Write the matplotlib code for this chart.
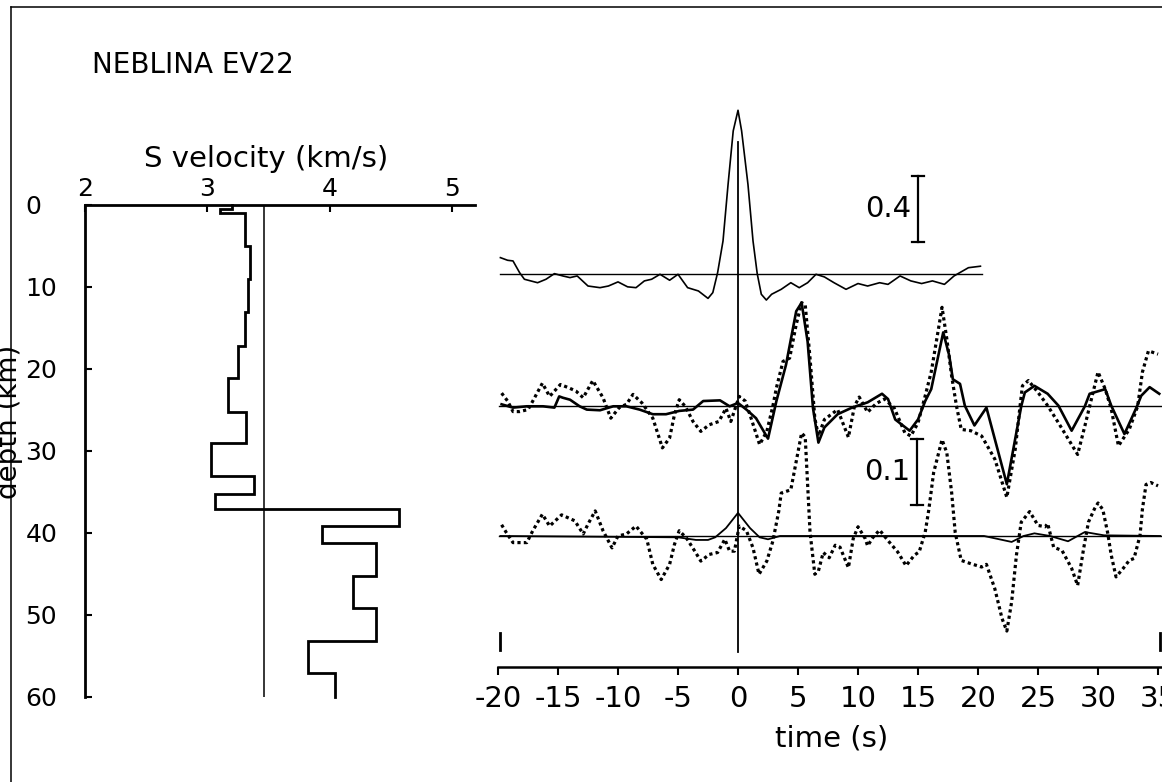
import numpy as np
import matplotlib
matplotlib.use('Agg')
import matplotlib.pyplot as plt
from matplotlib.lines import Line2D

plt.rcParams['font.family'] = ['DejaVu Sans']
plt.rcParams['axes.unicode_minus'] = False

# --- S velocity model (layer tops in km, velocity in km/s) ---
layer_top = [0, 0.5, 1.0, 5.0, 9.0, 13.0, 17.2, 21.1, 25.2, 29.0, 33.1, 35.2,
             37.1, 39.2, 41.2, 45.3, 49.1, 53.2, 57.1]
layer_vel = [3.20, 3.10, 3.31, 3.35, 3.33, 3.31, 3.25, 3.17, 3.32, 3.03, 3.38, 3.06,
             4.57, 3.94, 4.38, 4.19, 4.38, 3.82, 4.04]
model_bottom = 60
ref_vel = 3.46

# --- top trace (autocorrelation, plotted at 1/4 scale) ---
top_t = [-19.8, -19.2, -18.75, -18.2, -17.8, -16.7, -16.0, -15.3, -14.6, -14.0, -13.4,
         -12.5, -11.5, -10.8, -10.0, -9.2, -8.5, -7.8, -7.2, -6.5, -5.7, -5.0, -4.2,
         -3.3, -2.5, -2.1, -1.7, -1.25, -0.83, -0.4, 0.0, 0.3, 0.83, 1.25, 1.6, 1.94,
         2.36, 2.8, 3.6, 4.4, 5.1, 5.8, 6.5, 7.2, 8.0, 9.0, 10.0, 10.8, 11.8, 12.5,
         13.5, 14.4, 15.3, 16.2, 17.2, 18.0, 19.2, 20.2]
top_a = [0.097, 0.081, 0.077, 0.006, -0.034, -0.055, -0.034, 0.0, -0.014, -0.024, -0.014,
         -0.075, -0.085, -0.075, -0.05, -0.08, -0.085, -0.044, -0.034, -0.004, -0.04, -0.004,
         -0.085, -0.105, -0.15, -0.115, 0.006, 0.198, 0.54, 0.865, 0.99, 0.865, 0.54, 0.198,
         0.0, -0.125, -0.16, -0.125, -0.095, -0.055, -0.085, -0.055, -0.004, -0.02, -0.055,
         -0.095, -0.06, -0.075, -0.055, -0.065, -0.014, -0.044, -0.06, -0.044, -0.065,
         -0.014, 0.036, 0.045]

# --- middle traces ---
mid_solid_t = [-19.7, -18.75, -17.6, -16.25, -15.3, -14.9, -14.6, -14.0, -13.2, -12.6,
               -11.5, -10.4, -9.3, -8.2, -7.1, -6.0, -4.9, -3.75, -2.9, -1.5, -0.7, 0.0,
               0.7, 1.5, 2.5, 3.2, 4.0, 4.85, 5.3, 5.8, 6.25, 6.7, 7.2, 8.3, 9.5, 10.8,
               12.0, 12.5, 13.1, 14.3, 15.0, 15.6, 16.1, 17.1, 17.6, 17.9, 18.5, 18.9,
               19.7, 20.7, 22.4, 23.6, 23.9, 24.7, 25.8, 26.7, 27.8, 28.9, 29.3, 30.6,
               31.1, 32.2, 33.2, 33.6, 34.3, 35.1]
mid_solid_a = [0.003, -0.002, 0.0, 0.0, -0.002, 0.015, 0.013, 0.010, 0.0, -0.005,
               -0.006, 0.0, 0.0, -0.005, -0.012, -0.012, -0.007, -0.005, 0.008, 0.009, 0.0,
               0.005, -0.005, -0.018, -0.049, 0.008, 0.063, 0.144, 0.157, 0.098, -0.003,
               -0.055, -0.032, -0.012, -0.002, 0.006, 0.019, 0.011, -0.020, -0.037, -0.020,
               0.008, 0.026, 0.112, 0.077, 0.041, 0.034, 0.001, -0.029, -0.002, -0.118, 0.0,
               0.021, 0.031, 0.019, 0.001, -0.037, 0.0, 0.019, 0.026, 0.001, -0.042, -0.002,
               0.016, 0.029, 0.019]

mid_dot_t = [-19.7, -19.2, -18.75, -18.2, -17.5, -17.1, -16.3, -15.7, -14.8, -14.1, -13.5,
             -12.9, -12.1, -11.25, -10.6, -9.9, -9.3, -8.75, -8.0, -7.1, -6.3, -5.7, -5.3,
             -4.9, -4.4, -3.75, -3.1, -2.4, -1.6, -1.0, -0.6, 0.1, 0.6, 1.0, 1.8, 2.4, 2.9,
             3.2, 3.75, 4.3, 4.85, 5.3, 5.6, 6.0, 6.4, 6.7, 7.2, 8.3, 9.2, 9.7, 10.1, 10.8,
             11.5, 12.2, 13.0, 13.9, 14.4, 15.0, 15.6, 16.1, 16.7, 17.0, 17.4, 17.8, 18.2,
             18.6, 19.4, 20.3, 21.4, 22.4, 23.1, 23.5, 23.7, 24.2, 25.0, 25.8, 26.7, 28.3,
             28.9, 29.3, 30.0, 30.6, 31.1, 31.7, 32.6, 33.3, 33.7, 34.2, 35.0]
mid_dot_a = [0.020, 0.008, -0.008, -0.008, -0.005, 0.008, 0.035, 0.015, 0.033, 0.028, 0.023,
             0.013, 0.039, 0.013, -0.018, -0.002, 0.003, 0.018, 0.005, -0.018, -0.063, -0.048,
             -0.013, 0.010, 0.0, -0.023, -0.038, -0.028, -0.023, -0.003, -0.023, 0.015, 0.008,
             -0.013, -0.058, -0.038, 0.0, 0.028, 0.068, 0.073, 0.124, 0.157, 0.154, 0.073,
             -0.018, -0.045, -0.020, -0.005, -0.047, 0.0, 0.014, -0.009, 0.004, 0.011, -0.002,
             -0.040, -0.045, -0.025, 0.016, 0.052, 0.117, 0.150, 0.102, 0.046, 0.001, -0.035,
             -0.037, -0.045, -0.080, -0.138, -0.065, 0.0, 0.031, 0.039, 0.021, 0.001, -0.025,
             -0.073, -0.030, 0.0, 0.052, 0.026, -0.004, -0.060, -0.035, 0.0, 0.052, 0.084, 0.079]

# --- bottom traces ---
bot_solid_t = [-19.8, -5.0, -3.5, -2.5, -1.9, -1.0, 0.0, 1.0, 1.8, 2.5, 3.5, 20.5, 22.8,
               23.8, 24.7, 26.0, 27.5, 28.3, 28.9, 30.5, 35.2]
bot_solid_a = [0.0, -0.002, -0.006, -0.006, -0.002, 0.012, 0.035, 0.012, -0.002, -0.005,
               0.0, 0.0, -0.009, 0.0, 0.004, 0.0, -0.008, 0.0, 0.006, 0.001, 0.0]

bot_dot_t = [-19.7, -19.3, -18.75, -17.6, -17.1, -16.3, -15.7, -14.7, -13.6, -12.9, -12.5,
             -11.9, -11.25, -10.5, -10.0, -9.3, -8.5, -7.6, -7.1, -6.4, -5.7, -5.3, -4.9,
             -4.3, -3.6, -3.1, -2.4, -1.7, -1.1, -0.7, -0.3, 0.1, 0.7, 1.25, 1.75, 2.4, 2.9,
             3.4, 3.6, 4.4, 5.3, 5.6, 6.0, 6.4, 6.7, 7.1, 7.6, 8.1, 8.5, 9.2, 9.6, 10.0,
             10.6, 10.8, 11.25, 11.8, 12.5, 13.3, 14.0, 14.7, 15.1, 15.6, 15.9, 16.3, 17.0,
             17.4, 17.8, 18.1, 18.6, 19.4, 20.3, 20.7, 21.4, 22.0, 22.4, 22.8, 23.2, 23.6,
             24.3, 25.0, 25.6, 25.8, 26.3, 27.0, 27.8, 28.3, 28.8, 29.2, 29.7, 30.0, 30.4,
             30.8, 31.1, 31.5, 32.1, 32.6, 33.0, 33.5, 33.7, 34.0, 34.4, 35.0]
bot_dot_a = [0.017, 0.005, -0.010, -0.010, 0.008, 0.033, 0.015, 0.032, 0.023, 0.003, 0.018,
             0.038, 0.008, -0.018, 0.0, 0.003, 0.015, -0.005, -0.043, -0.066, -0.043, -0.013,
             0.008, -0.003, -0.023, -0.038, -0.028, -0.025, -0.005, -0.023, -0.023, 0.015,
             0.008, -0.018, -0.058, -0.038, -0.008, 0.038, 0.065, 0.070, 0.156, 0.150, 0.006,
             -0.058, -0.053, -0.025, -0.033, -0.014, -0.017, -0.048, -0.004, 0.014, -0.004,
             -0.015, -0.002, 0.009, -0.007, -0.024, -0.045, -0.029, -0.024, 0.006, 0.040,
             0.096, 0.146, 0.126, 0.066, 0.005, -0.037, -0.042, -0.047, -0.043, -0.080,
             -0.125, -0.144, -0.100, -0.029, 0.021, 0.037, 0.016, 0.014, 0.019, -0.017,
             -0.022, -0.049, -0.075, -0.019, 0.021, 0.041, 0.050, 0.040, 0.005, -0.029,
             -0.062, -0.049, -0.037, -0.034, 0.001, 0.041, 0.078, 0.081, 0.076]

time_ticks = [-20, -15, -10, -5, 0, 5, 10, 15, 20, 25, 30, 35]
vel_ticks = [2, 3, 4, 5]
depth_ticks = [0, 10, 20, 30, 40, 50, 60]

W, H = 1162, 782
fig = plt.figure(figsize=(W / 100, H / 100), dpi=100)


def fx(px):
    return px / W


def fy(py):
    return 1 - py / H


# frame lines of the scanned page
fig.add_artist(Line2D([fx(11), fx(11)], [fy(7), 0], transform=fig.transFigure,
                      color='black', lw=1.1))
fig.add_artist(Line2D([fx(11), 1], [fy(7), fy(7)], transform=fig.transFigure,
                      color='black', lw=1.1))

fig.text(fx(92), fy(73), 'NEBLINA EV22', fontsize=20, ha='left', va='baseline')

# ---------------- velocity profile ----------------
ax_v = fig.add_axes([fx(85), fy(697), fx(475) - fx(85), fy(205) - fy(697)])
ax_v.set_xlim(2, 2 + 390 / 122.33)
ax_v.set_ylim(60, 0)
for s in ['right', 'bottom']:
    ax_v.spines[s].set_visible(False)
for s in ['left', 'top']:
    ax_v.spines[s].set_linewidth(2.0)
ax_v.xaxis.tick_top()
ax_v.set_xticks(vel_ticks)
ax_v.set_yticks(depth_ticks)
ax_v.tick_params(axis='x', direction='in', length=5, width=1.5, labelsize=18, pad=3)
ax_v.tick_params(axis='y', direction='in', length=5, width=1.5, labelsize=18, pad=43)
for lab in ax_v.get_yticklabels():
    lab.set_horizontalalignment('left')

bottoms = layer_top[1:] + [model_bottom]
prof_v = np.repeat(layer_vel, 2)
prof_d = np.column_stack([layer_top, bottoms]).ravel()
ax_v.plot(prof_v, prof_d, color='black', lw=2.0, solid_joinstyle='miter', clip_on=False)
ax_v.plot([ref_vel, ref_vel], [0, model_bottom], color='black', lw=1.1)

fig.text(fx(266), fy(167), 'S velocity (km/s)', fontsize=21, ha='center', va='baseline')
# the depth label is half cut off by the page edge in the original scan
fig.text(fx(9), fy(422), 'depth (km)', fontsize=20, rotation=90, ha='center', va='center')

# ---------------- receiver functions ----------------
ax_t = fig.add_axes([fx(498), fy(667), fx(1162) - fx(498), fy(100) - fy(667)])
ax_t.set_xlim(-20, 35.33)
ax_t.set_ylim(0, 567 / 660)
for s in ['left', 'right', 'top']:
    ax_t.spines[s].set_visible(False)
ax_t.spines['bottom'].set_linewidth(1.8)
ax_t.set_yticks([])
ax_t.set_xticks(time_ticks)
ax_t.tick_params(axis='x', direction='out', length=5.8, width=1.5, labelsize=21, pad=7)

off_top, off_mid, off_bot = 0.596, 0.395, 0.1985
top_scale = 0.25

ax_t.plot([-19.8, 20.3], [off_top, off_top], color='black', lw=1.0)
ax_t.plot(top_t, off_top + top_scale * np.array(top_a), color='black', lw=1.2)

ax_t.plot([-19.9, 35.33], [off_mid, off_mid], color='black', lw=1.0)
ax_t.plot(mid_dot_t, off_mid + np.array(mid_dot_a), color='black', lw=2.3,
          linestyle=(0, (1.0, 1.0)), dash_capstyle='butt')
ax_t.plot(mid_solid_t, off_mid + np.array(mid_solid_a), color='black', lw=1.9)

ax_t.plot([-19.9, 35.33], [off_bot, off_bot], color='black', lw=1.0)
ax_t.plot(bot_dot_t, off_bot + np.array(bot_dot_a), color='black', lw=2.3,
          linestyle=(0, (1.0, 1.0)), dash_capstyle='butt')
ax_t.plot(bot_solid_t, off_bot + np.array(bot_solid_a), color='black', lw=1.3)

# zero-time line and end markers
ax_t.plot([0, 0], [0.0227, 0.795], color='black', lw=1.3)
for tm in [-19.85, 35.15]:
    ax_t.plot([tm, tm], [0.026, 0.0515], color='black', lw=2.0, clip_on=False)

# amplitude scale bars
for tb, yc, lab in [(15.0, 0.694, '0.4'), (14.9, 0.2955, '0.1')]:
    ax_t.plot([tb, tb], [yc - 0.05, yc + 0.05], color='black', lw=1.6)
    for yy in [yc - 0.05, yc + 0.05]:
        ax_t.plot([tb - 0.5, tb + 0.5], [yy, yy], color='black', lw=1.6)
    ax_t.text(tb - 0.55, yc, lab, fontsize=21, ha='right', va='center')

fig.text(fx(832), fy(747), 'time (s)', fontsize=21, ha='center', va='baseline')

fig.savefig('out.png', dpi=100)
